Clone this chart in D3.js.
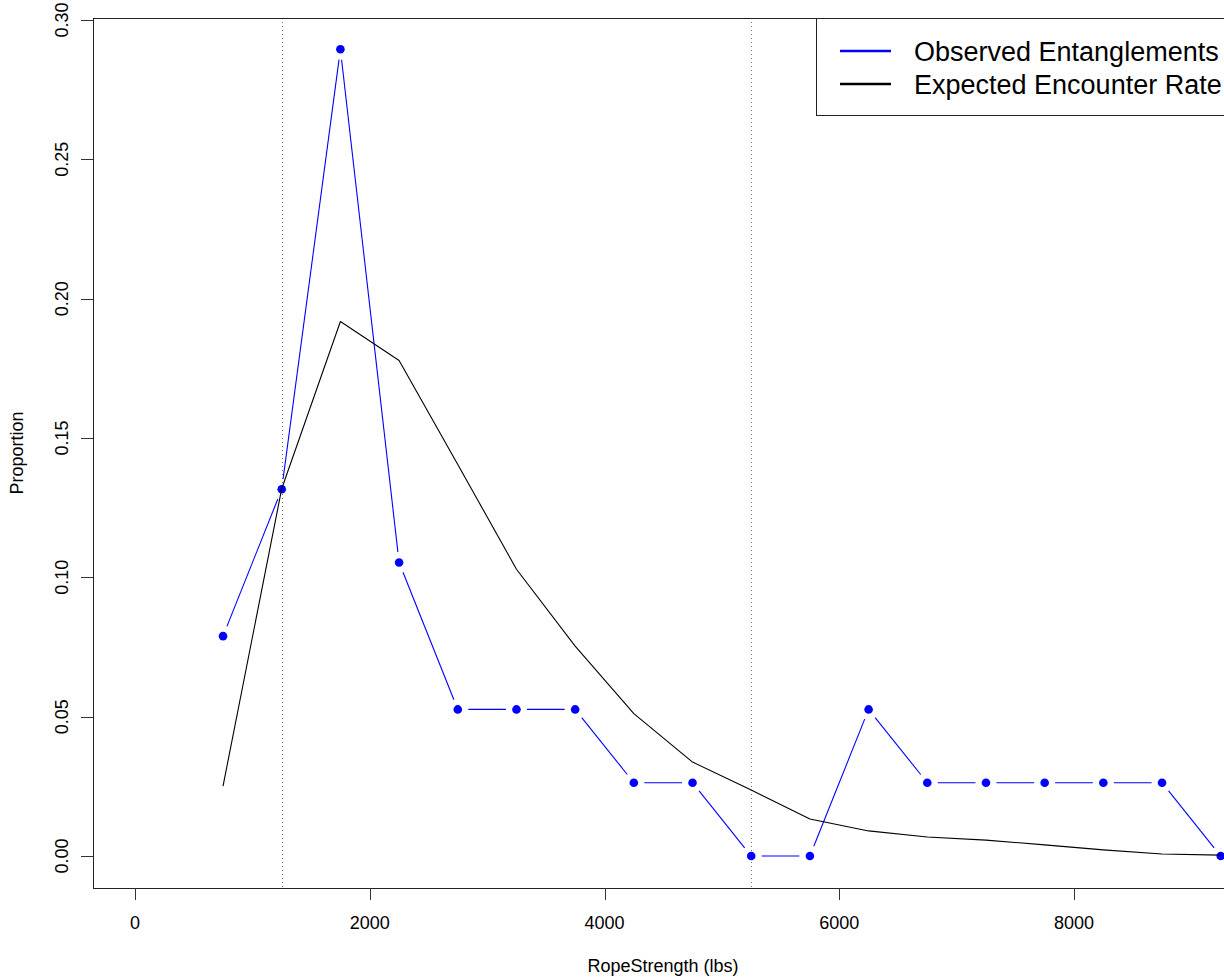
<!DOCTYPE html>
<html>
<head>
<meta charset="utf-8">
<script src="https://cdn.jsdelivr.net/npm/d3@7"></script>
<style>
  html, body { margin: 0; padding: 0; background: #fff; overflow: hidden; }
  svg { display: block; font-family: "Liberation Sans", Arial, Helvetica, sans-serif; }
</style>
</head>
<body>
<svg id="chart" width="1224" height="977"></svg>
<script>
// ---- data ----
const ropeStrength = [750, 1250, 1750, 2250, 2750, 3250, 3750, 4250, 4750, 5250, 5750, 6250, 6750, 7250, 7750, 8250, 8750, 9250];
const observedEntanglements = [0.0789, 0.1316, 0.2895, 0.1053, 0.0526, 0.0526, 0.0526, 0.0263, 0.0263, 0, 0, 0.0526, 0.0263, 0.0263, 0.0263, 0.0263, 0.0263, 0];
const expectedEncounterRate = [0.0251, 0.1318, 0.1918, 0.1778, 0.1405, 0.1029, 0.0753, 0.0511, 0.0337, 0.0237, 0.0133, 0.0090, 0.0068, 0.0057, 0.0040, 0.0022, 0.0007, 0.0003];
const referenceLines = [1250, 5250];
const xTicks = [0, 2000, 4000, 6000, 8000];
const yTicks = [0.00, 0.05, 0.10, 0.15, 0.20, 0.25, 0.30];
const legendLabels = ["Observed Entanglements", "Expected Encounter Rate"];
const legendColors = ["#0000ff", "#000000"];
const xTitle = "RopeStrength (lbs)";
const yTitle = "Proportion";

// ---- layout ----
const frame = { left: 93, right: 1233, top: 18, bottom: 888 };
const svg = d3.select("#chart");

const x = d3.scaleLinear().domain([0, 8000]).range([135, 1074]);
const y = d3.scaleLinear().domain([0, 0.30]).range([856, 20]);

svg.append("defs").append("clipPath").attr("id", "plotclip")
  .append("rect")
  .attr("x", frame.left).attr("y", frame.top)
  .attr("width", frame.right - frame.left).attr("height", frame.bottom - frame.top);

const plot = svg.append("g").attr("clip-path", "url(#plotclip)");

// reference dotted lines
plot.selectAll("line.ref").data(referenceLines).enter().append("line")
  .attr("class", "ref")
  .attr("x1", d => Math.round(x(d)) + 0.5).attr("x2", d => Math.round(x(d)) + 0.5)
  .attr("y1", frame.top).attr("y2", frame.bottom)
  .attr("stroke", "#777").attr("stroke-width", 1).attr("stroke-dasharray", "1,3");

// observed (type = "b": segments with gaps around points)
const obsPts = ropeStrength.map((v, i) => [x(v), y(observedEntanglements[i])]);
const gap = 10.5;
const segs = [];
for (let i = 0; i < obsPts.length - 1; i++) {
  const [x1, y1] = obsPts[i], [x2, y2] = obsPts[i + 1];
  const dx = x2 - x1, dy = y2 - y1, len = Math.hypot(dx, dy);
  if (len > 2 * gap) {
    const ux = dx / len, uy = dy / len;
    segs.push([x1 + ux * gap, y1 + uy * gap, x2 - ux * gap, y2 - uy * gap]);
  }
}
plot.selectAll("line.obs").data(segs).enter().append("line")
  .attr("class", "obs")
  .attr("x1", d => d[0]).attr("y1", d => d[1]).attr("x2", d => d[2]).attr("y2", d => d[3])
  .attr("stroke", "#0000ff").attr("stroke-width", 1.1);

plot.selectAll("circle.obs").data(obsPts).enter().append("circle")
  .attr("class", "obs")
  .attr("cx", d => d[0]).attr("cy", d => d[1]).attr("r", 4.3)
  .attr("fill", "#0000ff");

// expected line
const line = d3.line().x((d, i) => x(ropeStrength[i])).y(d => y(d));
plot.append("path").datum(expectedEncounterRate)
  .attr("d", line)
  .attr("fill", "none").attr("stroke", "#000").attr("stroke-width", 1.1)
  .attr("stroke-linejoin", "round");

// frame
svg.append("rect")
  .attr("x", frame.left + 0.5).attr("y", frame.top + 0.5)
  .attr("width", frame.right - frame.left).attr("height", frame.bottom - frame.top)
  .attr("fill", "none").attr("stroke", "#222").attr("stroke-width", 1);

// x axis
const xAxis = svg.append("g");
xAxis.selectAll("line").data(xTicks).enter().append("line")
  .attr("x1", d => Math.round(x(d)) + 0.5).attr("x2", d => Math.round(x(d)) + 0.5)
  .attr("y1", frame.bottom).attr("y2", frame.bottom + 12)
  .attr("stroke", "#333");
xAxis.selectAll("text").data(xTicks).enter().append("text")
  .attr("x", d => x(d)).attr("y", 929)
  .attr("text-anchor", "middle").attr("font-size", 18).attr("fill", "#000")
  .text(d => d3.format("d")(d));

// y axis
const yAxis = svg.append("g");
yAxis.selectAll("line").data(yTicks).enter().append("line")
  .attr("x1", frame.left - 12).attr("x2", frame.left)
  .attr("y1", d => Math.round(y(d)) + 0.5).attr("y2", d => Math.round(y(d)) + 0.5)
  .attr("stroke", "#333");
yAxis.selectAll("text").data(yTicks).enter().append("text")
  .attr("transform", d => `translate(68,${y(d)}) rotate(-90)`)
  .attr("text-anchor", "middle").attr("font-size", 18).attr("fill", "#000")
  .text(d => d3.format(".2f")(d));

// titles
svg.append("text")
  .attr("x", (frame.left + frame.right) / 2).attr("y", 972)
  .attr("text-anchor", "middle").attr("font-size", 18)
  .text(xTitle);
svg.append("text")
  .attr("transform", `translate(23,${(frame.top + frame.bottom) / 2}) rotate(-90)`)
  .attr("text-anchor", "middle").attr("font-size", 18)
  .text(yTitle);

// legend
const lg = svg.append("g");
lg.append("rect")
  .attr("x", 816.5).attr("y", 18.5).attr("width", 500).attr("height", 97)
  .attr("fill", "#fff").attr("stroke", "#222");
lg.selectAll("line").data(legendLabels).enter().append("line")
  .attr("x1", 840).attr("x2", 891)
  .attr("y1", (d, i) => 51 + i * 33).attr("y2", (d, i) => 51 + i * 33)
  .attr("stroke", (d, i) => legendColors[i]).attr("stroke-width", 2.6);
lg.selectAll("text").data(legendLabels).enter().append("text")
  .attr("x", 914).attr("y", (d, i) => 61 + i * 33)
  .attr("font-size", 27).attr("fill", "#000")
  .text(d => d);
</script>
</body>
</html>
